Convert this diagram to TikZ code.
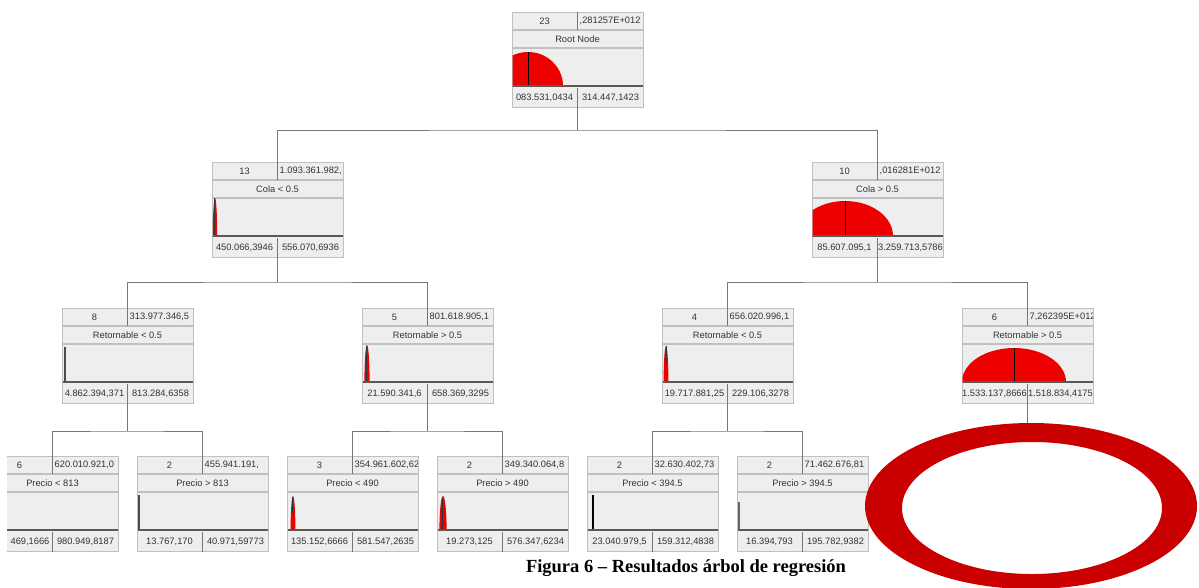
\documentclass[tikz,border=0pt]{standalone}
\usepackage{fontspec}
\setmainfont{Liberation Serif}
\setsansfont{Liberation Sans}
\usetikzlibrary{calc}
\definecolor{boxgray}{RGB}{238,238,238}
\definecolor{rulegray}{RGB}{192,192,192}
\definecolor{linkgray}{RGB}{118,118,118}
\definecolor{ringred}{RGB}{202,0,0}
\definecolor{barred}{RGB}{236,0,0}
\tikzset{
    tbox/.style={draw=rulegray, fill=boxgray, line width=1pt, minimum width=131pt, minimum height=95pt, inner sep=0pt},
    cell/.style={draw=rulegray, line width=1.6pt},
    link/.style={draw=linkgray, line width=1pt},
    base/.style={draw=black!65, line width=1.6pt},
    txt/.style={font=\sffamily\fontsize{9.3}{10}\selectfont, text=black!80, inner sep=0pt},
    figcap/.style={font=\bfseries\fontsize{18.5}{20}\selectfont, inner sep=0pt}
}
% one box of the tree: name, x, top, count, value, split, low, high, chart
\newcommand{\tnode}[9]{%
    \node[tbox, anchor=north] (#1) at (#2,#3) {};
    \draw[cell] ($(#1.north west)+(0,18)$) -- ($(#1.north east)+(0,18)$);
    \draw[cell] ($(#1.north west)+(0,36)$) -- ($(#1.north east)+(0,36)$);
    \begin{scope}
        \clip ($(#1.north west)+(1,36)$) rectangle ($(#1.north east)+(-1,74)$);
        #9
    \end{scope}
    \draw[base] ($(#1.north west)+(1,74)$) -- ($(#1.north east)+(-1,74)$);
    \draw[link] (#1.north) -- ++(0,18);
    \draw[link] (#1.south) -- ++(0,-20);
    \node[txt] at ($(#1.north west)+(33,9)$) {#4};
    \node[txt] at ($(#1.north)+(0,27)$) {#6};
    \begin{scope}
        \clip (#1.north) rectangle ($(#1.north east)+(-1,18)$);
        \node[txt, anchor=west] at ($(#1.north)+(2,9)$) {#5};
    \end{scope}
    \begin{scope}
        \clip ($(#1.south west)+(1,-20)$) rectangle (#1.south);
        \node[txt] at ($(#1.south west)+(33,-10)$) {#7};
    \end{scope}
    \begin{scope}
        \clip ($(#1.south)+(0,-20)$) rectangle ($(#1.south east)+(-1,0)$);
        \node[txt] at ($(#1.south east)+(-33,-10)$) {#8};
    \end{scope}
}

\begin{document}
\begin{tikzpicture}[x=1pt, y=-1pt]
    \useasboundingbox (0,0) rectangle (1199,587);
    \fill[white] (0,0) rectangle (1199,587);
    \clip (7,0) rectangle (1199,587);

    % root
    \tnode{root}{577.5}{12}{23}{,281257E+012}{Root Node}{083.531,0434}{314.447,1423}{%
        \fill[barred] (528,86) ellipse[x radius=35, y radius=34];
        \draw[black, line width=1pt] (528,86) -- (528,52);}

    % level 1
    \tnode{colaA}{277.5}{162}{13}{1.093.361.982,}{Cola < 0.5}{450.066,3946}{556.070,6936}{%
        \fill[barred] (215,236) ellipse[x radius=2.2, y radius=38];
        \draw[black!80, line width=0.8pt] (214,236) -- (214,198);}
    \tnode{colaB}{877.5}{162}{10}{,016281E+012}{Cola > 0.5}{85.607.095,1}{3.259.713,5786}{%
        \fill[barred] (845,236) ellipse[x radius=48, y radius=35];
        \draw[black, line width=1pt] (845,236) -- (845,201);}

    % level 2
    \tnode{retA}{127.5}{308}{8}{313.977.346,5}{Retornable < 0.5}{4.862.394,371}{813.284,6358}{%
        \draw[black!70, line width=1.6pt] (65,382) -- (65,347);}
    \tnode{retB}{427.5}{308}{5}{801.618.905,1}{Retornable > 0.5}{21.590.341,6}{658.369,3295}{%
        \fill[barred] (367,382) ellipse[x radius=2.6, y radius=37];
        \draw[black!80, line width=0.8pt] (366,382) -- (366,346);}
    \tnode{retC}{727.5}{308}{4}{656.020.996,1}{Retornable < 0.5}{19.717.881,25}{229.106,3278}{%
        \fill[barred] (666,382) ellipse[x radius=2.4, y radius=36];
        \draw[black!80, line width=0.8pt] (666,362) -- (666,346);}
    \tnode{retD}{1027.5}{308}{6}{7,262395E+012}{Retornable > 0.5}{1.533.137,8666}{1.518.834,4175}{%
        \fill[barred] (1014,382) ellipse[x radius=52, y radius=34];
        \draw[black, line width=1pt] (1014,382) -- (1014,348);}

    % level 3
    \tnode{preA}{52.5}{456}{6}{620.010.921,0}{Precio < 813}{\hspace*{21pt}469,1666}{980.949,8187}{}
    \tnode{preB}{202.5}{456}{2}{455.941.191,}{Precio > 813}{13.767,170}{40.971,59773}{%
        \draw[black!70, line width=1.4pt] (139,530) -- (139,495);}
    \tnode{preC}{352.5}{456}{3}{354.961.602,62}{Precio < 490}{135.152,6666}{581.547,2635}{%
        \fill[barred] (293,530) ellipse[x radius=2.4, y radius=34];
        \draw[black!80, line width=0.8pt] (292,514) -- (292,497);}
    \tnode{preD}{502.5}{456}{2}{349.340.064,8}{Precio > 490}{19.273,125}{576.347,6234}{%
        \fill[barred] (443,530) ellipse[x radius=3.6, y radius=34];
        \draw[black!80, line width=0.6pt] (442,530) -- (442,497);}
    \tnode{preE}{652.5}{456}{2}{32.630.402,73}{Precio < 394.5}{23.040.979,5}{159.312,4838}{%
        \draw[black, line width=1.2pt] (593,530) -- (593,495);}
    \tnode{preF}{802.5}{456}{2}{71.462.676,81}{Precio > 394.5}{16.394,793}{195.782,9382}{%
        \draw[black!60, line width=1.6pt] (739,530) -- (739,502);}

    % links
    \coordinate (j0) at ($(root.south)+(0,22)$);
    \draw[link] (root.south) -- (j0);
    \draw[link] (colaA.north) |- (j0) -| (colaB.north);
    \coordinate (j1) at ($(colaA.south)+(0,24)$);
    \draw[link] (colaA.south) -- (j1);
    \draw[link] (retA.north) |- (j1) -| (retB.north);
    \coordinate (j2) at ($(colaB.south)+(0,24)$);
    \draw[link] (colaB.south) -- (j2);
    \draw[link] (retC.north) |- (j2) -| (retD.north);
    \coordinate (j3) at ($(retA.south)+(0,27)$);
    \draw[link] (retA.south) -- (j3);
    \draw[link] (preA.north) |- (j3) -| (preB.north);
    \coordinate (j4) at ($(retB.south)+(0,27)$);
    \draw[link] (retB.south) -- (j4);
    \draw[link] (preC.north) |- (j4) -| (preD.north);
    \coordinate (j5) at ($(retC.south)+(0,27)$);
    \draw[link] (retC.south) -- (j5);
    \draw[link] (preE.north) |- (j5) -| (preF.north);
    \coordinate (j6) at ($(retD.south)+(0,27)$);
    \draw[link] (retD.south) -- (j6);

    \node[figcap] (caption) at (686,568) {Figura 6 – Resultados árbol de regresión};

    % red ring over the last branch
    \fill[ringred, even odd rule] (1031,506) ellipse[x radius=166, y radius=83]
        (1032,508) ellipse[x radius=130, y radius=66];
\end{tikzpicture}
\end{document}
